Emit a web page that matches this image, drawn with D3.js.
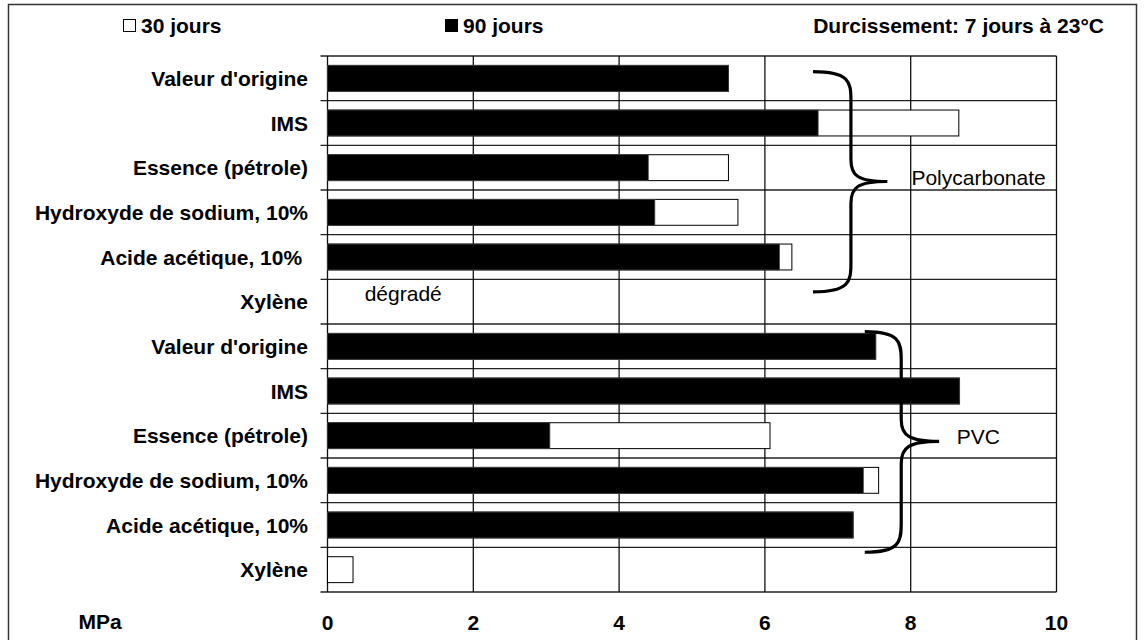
<!DOCTYPE html>
<html>
<head>
<meta charset="utf-8">
<script src="https://cdn.jsdelivr.net/npm/d3@7"></script>
<style>
body { margin: 0; background: #fff; }
text { font-family: "Liberation Sans", Arial, sans-serif; }
</style>
</head>
<body>
<div id="chart"></div>
<script>
// rows, top to bottom
var categories = ["Valeur d'origine", "IMS", "Essence (pétrole)", "Hydroxyde de sodium, 10%", "Acide acétique, 10%\u00a0", "Xylène",
                  "Valeur d'origine", "IMS", "Essence (pétrole)", "Hydroxyde de sodium, 10%", "Acide acétique, 10%", "Xylène"];
var jours30 = [5.5, 8.66, 5.5, 5.63, 6.37, null, 7.52, 8.67, 6.07, 7.56, 7.21, 0.35];
var jours90 = [5.5, 6.73, 4.40, 4.49, 6.20, null, 7.52, 8.67, 3.05, 7.35, 7.21, 0];
var xTicks = [0, 2, 4, 6, 8, 10];

var width = 1145, height = 640;
var plotLeft = 327.5, plotRight = 1056.5, plotTop = 56, plotBottom = 592;

var svg = d3.select("#chart").append("svg")
    .attr("width", width)
    .attr("height", height);

svg.append("rect")
    .attr("x", 8.5).attr("y", 4.5)
    .attr("width", 1128).attr("height", 640)
    .attr("fill", "none").attr("stroke", "#333").attr("stroke-width", 1.5);

var x = d3.scaleLinear().domain([0, 10]).range([plotLeft, plotRight]);
var rows = d3.range(categories.length);
var y = d3.scaleBand().domain(rows).range([plotTop, plotBottom])
    .paddingInner(0.42).paddingOuter(0.21);
var yPos = d3.scaleLinear().domain([0, categories.length]).range([plotTop, plotBottom]);

// horizontal grid (row boundaries)
svg.selectAll("line.hgrid")
    .data(d3.range(categories.length + 1))
    .enter().append("line")
    .attr("class", "hgrid")
    .attr("x1", plotLeft - 7).attr("x2", plotRight)
    .attr("y1", function(d) { return yPos(d); })
    .attr("y2", function(d) { return yPos(d); })
    .attr("stroke", "#222").attr("stroke-width", 1.3);

// vertical grid
svg.selectAll("line.vgrid")
    .data(xTicks)
    .enter().append("line")
    .attr("class", "vgrid")
    .attr("x1", function(d) { return x(d); })
    .attr("x2", function(d) { return x(d); })
    .attr("y1", plotTop).attr("y2", plotBottom)
    .attr("stroke", "#111").attr("stroke-width", 1.3);

// 30 jours (white, behind)
svg.selectAll("rect.j30")
    .data(rows.filter(function(i) { return jours30[i] != null && jours30[i] > 0; }))
    .enter().append("rect")
    .attr("class", "j30")
    .attr("x", x(0))
    .attr("y", function(i) { return y(i); })
    .attr("width", function(i) { return x(jours30[i]) - x(0); })
    .attr("height", y.bandwidth())
    .attr("fill", "#fff").attr("stroke", "#000").attr("stroke-width", 1);

// 90 jours (black, in front)
svg.selectAll("rect.j90")
    .data(rows.filter(function(i) { return jours90[i] != null && jours90[i] > 0; }))
    .enter().append("rect")
    .attr("class", "j90")
    .attr("x", x(0))
    .attr("y", function(i) { return y(i); })
    .attr("width", function(i) { return x(jours90[i]) - x(0); })
    .attr("height", y.bandwidth())
    .attr("fill", "#000").attr("stroke", "#444").attr("stroke-width", 0.8);

// category labels
svg.selectAll("text.cat")
    .data(rows)
    .enter().append("text")
    .attr("class", "cat")
    .attr("x", 308)
    .attr("y", function(i) { return y(i) + y.bandwidth() / 2 + 7.5; })
    .attr("text-anchor", "end")
    .attr("font-size", 21).attr("font-weight", "bold")
    .text(function(i) { return categories[i]; });

// x tick labels
svg.selectAll("text.tick")
    .data(xTicks)
    .enter().append("text")
    .attr("class", "tick")
    .attr("x", function(d) { return x(d); })
    .attr("y", 630)
    .attr("text-anchor", "middle")
    .attr("font-size", 21).attr("font-weight", "bold")
    .text(function(d) { return d; });

svg.append("text").attr("x", 100).attr("y", 629)
    .attr("text-anchor", "middle")
    .attr("font-size", 21).attr("font-weight", "bold")
    .text("MPa");

// legend
svg.append("rect").attr("x", 123.5).attr("y", 19.5).attr("width", 12).attr("height", 12)
    .attr("fill", "#fff").attr("stroke", "#000").attr("stroke-width", 1);
svg.append("text").attr("x", 141).attr("y", 33)
    .attr("font-size", 21).attr("font-weight", "bold").text("30 jours");
svg.append("rect").attr("x", 445).attr("y", 19).attr("width", 13).attr("height", 13)
    .attr("fill", "#000");
svg.append("text").attr("x", 463).attr("y", 33)
    .attr("font-size", 21).attr("font-weight", "bold").text("90 jours");
svg.append("text").attr("x", 1104).attr("y", 33)
    .attr("text-anchor", "end")
    .attr("font-size", 21).attr("font-weight", "bold").text("Durcissement: 7 jours à 23°C");

// "dégradé" note in the Polycarbonate Xylène row
svg.append("text").attr("x", x(0.51)).attr("y", y(5) + 12)
    .attr("font-size", 21).text("dégradé");

// braces
function brace(x0, xs, xt, r0, rt, r1) {
  var a = x(x0), s = x(xs), t = x(xt);
  var y0 = yPos(r0), ym = yPos(rt), y1 = yPos(r1);
  var p = d3.path();
  p.moveTo(a, y0);
  p.bezierCurveTo(s - 2, y0, s, y0 + 10, s, y0 + 28);
  p.lineTo(s, ym - 22);
  p.bezierCurveTo(s, ym - 6, t - 30, ym, t, ym);
  p.bezierCurveTo(t - 30, ym, s, ym + 6, s, ym + 22);
  p.lineTo(s, y1 - 28);
  p.bezierCurveTo(s, y1 - 10, s - 2, y1, a, y1);
  svg.append("path").attr("d", p.toString())
    .attr("fill", "none").attr("stroke", "#000").attr("stroke-width", 3.2);
}
brace(6.66, 7.18, 7.68, 0.35, 2.81, 5.28);
brace(7.37, 7.87, 8.39, 6.17, 8.63, 11.11);

svg.append("text").attr("x", x(8.01)).attr("y", 185)
    .attr("font-size", 21).text("Polycarbonate");
svg.append("text").attr("x", x(8.63)).attr("y", 444)
    .attr("font-size", 21).text("PVC");
</script>
</body>
</html>
